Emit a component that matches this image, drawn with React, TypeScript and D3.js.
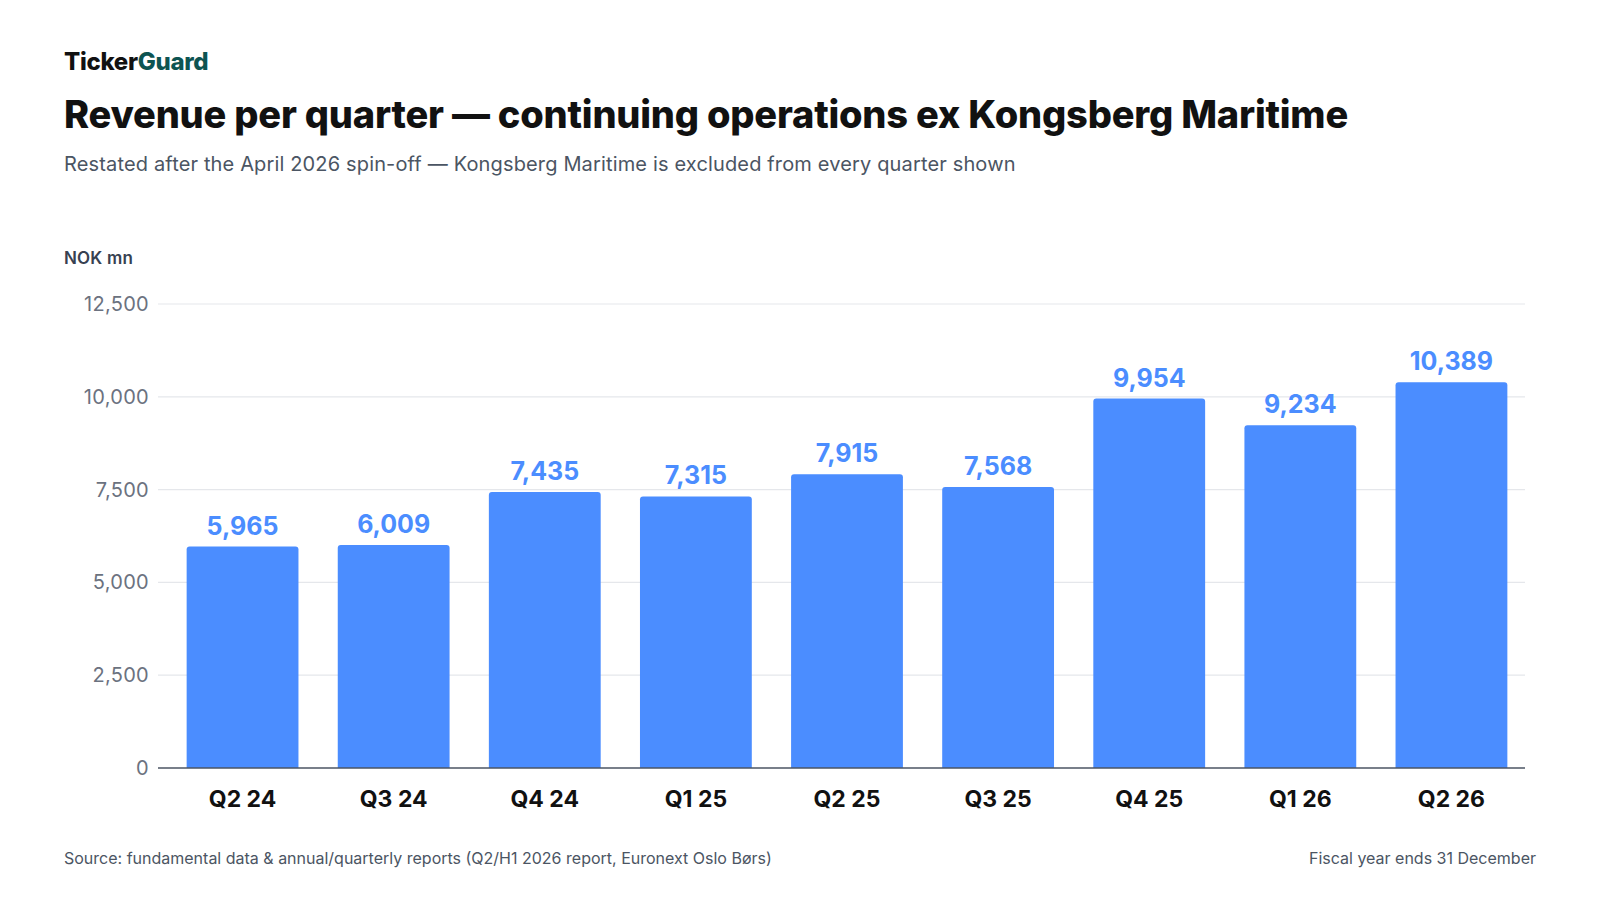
import React from 'react'
import { scaleBand, scaleLinear, format } from 'd3'

const quarters = ['Q2 24', 'Q3 24', 'Q4 24', 'Q1 25', 'Q2 25', 'Q3 25', 'Q4 25', 'Q1 26', 'Q2 26']
const revenue = [5965, 6009, 7435, 7315, 7915, 7568, 9954, 9234, 10389]
const yTicks = [0, 2500, 5000, 7500, 10000, 12500]

const App = () => {
    const width = 1600
    const height = 900
    const margin = { top: 304, right: 75, bottom: 132, left: 158 }
    const font = 'Inter, "Noto Sans", sans-serif'
    const blue = '#4b8dff'

    const x = scaleBand()
        .domain(quarters)
        .range([167, 1527])
        .paddingInner(0.26)
        .paddingOuter(0.13)

    const y = scaleLinear()
        .domain([0, 12500])
        .range([height - margin.bottom, margin.top])

    const fmt = format(',')
    const r = 3

    return (
        <div style={{ position: 'fixed', left: 0, top: 0 }}>
            <svg width={width} height={height} style={{ fontFamily: font, background: '#fff', display: 'block' }}>
                <text x={64} y={70} fontSize={24} fontWeight={800} fill="#111" letterSpacing={-0.3}>
                    Ticker<tspan fill="#0d5452">Guard</tspan>
                </text>
                <text x={64} y={128} fontSize={38} fontWeight={800} fill="#111" letterSpacing={-0.2}>
                    Revenue per quarter — continuing operations ex Kongsberg Maritime
                </text>
                <text x={64} y={171} fontSize={20} fill="#4b5563" letterSpacing={0.15}>
                    Restated after the April 2026 spin-off — Kongsberg Maritime is excluded from every quarter shown
                </text>
                <text x={64} y={264} fontSize={17} fontWeight={600} fill="#374151" letterSpacing={0.2}>NOK mn</text>

                {yTicks.map(t => (
                    <g key={t}>
                        {t > 0 && <line x1={margin.left} x2={width - margin.right} y1={y(t)} y2={y(t)} stroke="#e5e7eb" strokeWidth={1.2} />}
                        <text x={149} y={y(t)} dy="0.35em" textAnchor="end" fontSize={20} fill="#6b7280" letterSpacing={0.3}>{fmt(t)}</text>
                    </g>
                ))}

                {quarters.map((q, i) => {
                    const bx = x(q) || 0
                    const bw = x.bandwidth()
                    const by = y(revenue[i])
                    const by0 = y(0)
                    const path = `M${bx},${by0}V${by + r}Q${bx},${by} ${bx + r},${by}H${bx + bw - r}Q${bx + bw},${by} ${bx + bw},${by + r}V${by0}Z`
                    return (
                        <g key={q}>
                            <path d={path} fill={blue} />
                            <text x={bx + bw / 2} y={by - 12} textAnchor="middle" fontSize={25} fontWeight={700} fill={blue}>{fmt(revenue[i])}</text>
                            <text x={bx + bw / 2} y={y(0) + 39} textAnchor="middle" fontSize={23} fontWeight={700} fill="#111">{q}</text>
                        </g>
                    )
                })}
                <line x1={margin.left} x2={width - margin.right} y1={y(0)} y2={y(0)} stroke="#4b5563" strokeWidth={1.5} />

                <text x={64} y={864} fontSize={16} fill="#4b5563">
                    Source: fundamental data &amp; annual/quarterly reports (Q2/H1 2026 report, Euronext Oslo Børs)
                </text>
                <text x={1536} y={864} fontSize={16} fill="#4b5563" textAnchor="end">Fiscal year ends 31 December</text>
            </svg>
        </div>
    )
}

export default App
